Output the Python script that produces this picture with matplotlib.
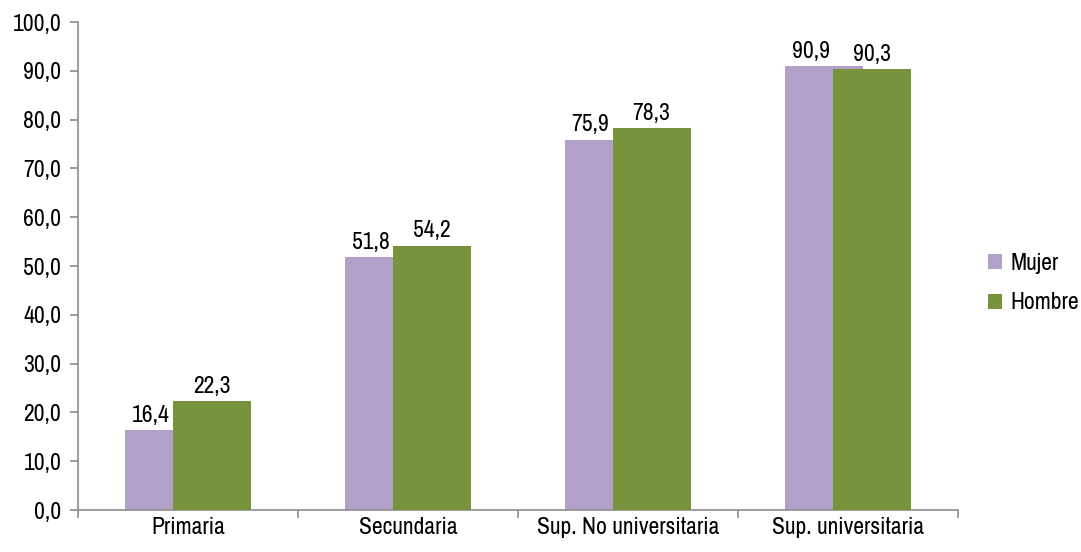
import numpy as np
import matplotlib.pyplot as plt

categories = ["Primaria", "Secundaria", "Sup. No universitaria", "Sup. universitaria"]
mujer = [16.4, 51.8, 75.9, 90.9]
hombre = [22.3, 54.2, 78.3, 90.3]
series_names = ["Mujer", "Hombre"]
y_ticks = [0, 10, 20, 30, 40, 50, 60, 70, 80, 90, 100]

PURPLE = "#B1A0C7"
GREEN = "#77933C"
AXIS_GRAY = "#8C8C8C"

plt.rcParams["font.family"] = ["Archivo Narrow", "Liberation Sans", "DejaVu Sans"]
plt.rcParams["font.size"] = 17


def fmt(v):
    return f"{v:.1f}".replace(".", ",")


fig = plt.figure(figsize=(10.81, 5.52), dpi=100)
ax = fig.add_axes([78 / 1081, 42 / 552, 880 / 1081, 488 / 552])

x = np.arange(len(categories))
width = 0.355
off = 0.11

ax.bar(x - off, mujer, width, color=PURPLE, label=series_names[0], zorder=2)
ax.bar(x + off, hombre, width, color=GREEN, label=series_names[1], zorder=3)

# value labels, the purple one sits over the visible part of its bar
for xi, v in zip(x, mujer):
    ax.text(xi - 0.17, v + 0.9, fmt(v), ha="center", va="bottom")
for xi, v in zip(x, hombre):
    ax.text(xi + 0.107, v + 0.9, fmt(v), ha="center", va="bottom")

ax.set_xlim(-0.5, len(categories) - 0.5)
ax.set_ylim(0, 100)
ax.set_yticks(y_ticks)
ax.set_yticklabels([fmt(t) for t in y_ticks])

ax.set_xticks(np.arange(-0.5, len(categories), 1.0))
ax.set_xticklabels([])
ax.set_xticks(x, minor=True)
ax.set_xticklabels(categories, minor=True)
ax.tick_params(axis="x", which="minor", length=0, pad=5)
ax.tick_params(axis="x", which="major", length=6, color=AXIS_GRAY, width=1.2)
ax.tick_params(axis="y", length=6, color=AXIS_GRAY, width=1.2, pad=6)

for side in ["top", "right"]:
    ax.spines[side].set_visible(False)
for side in ["left", "bottom"]:
    ax.spines[side].set_color(AXIS_GRAY)
    ax.spines[side].set_linewidth(1.2)

handles, labels = ax.get_legend_handles_labels()
fig.legend(handles, labels, loc="center left", bbox_to_anchor=(988 / 1081, 1 - 283 / 552),
           frameon=False, handlelength=0.6, handleheight=0.6, handletextpad=0.35,
           labelspacing=0.8, borderpad=0, borderaxespad=0)

fig.savefig("out.png", dpi=100)
